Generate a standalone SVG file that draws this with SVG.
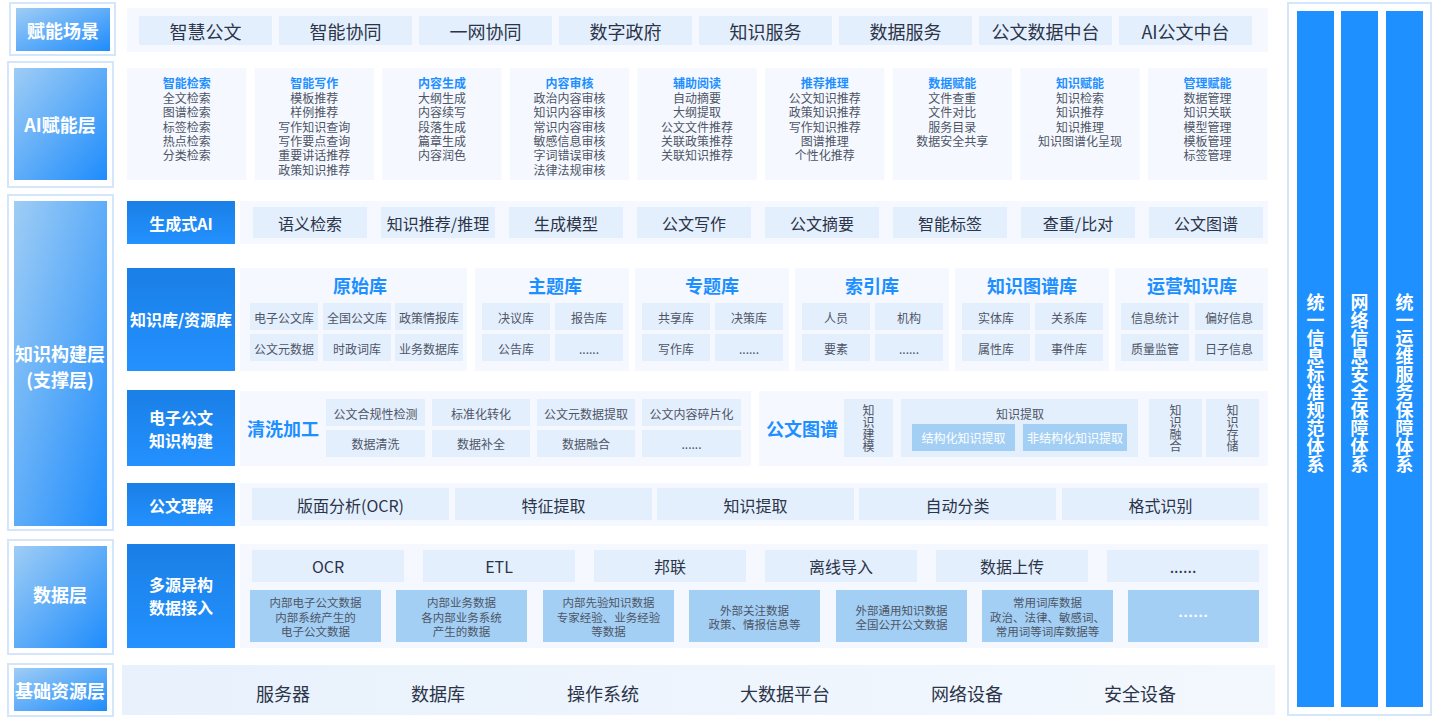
<svg xmlns="http://www.w3.org/2000/svg" width="1440" height="720" viewBox="0 0 1440 720">
<defs>
<linearGradient id="gLeft" x1="0" y1="0" x2="1" y2="1"><stop offset="0" stop-color="#9fcdf5"/><stop offset="1" stop-color="#1e8cfc"/></linearGradient>
<linearGradient id="gLabel" x1="0" y1="0" x2="0" y2="1"><stop offset="0" stop-color="#1a7fe6"/><stop offset="1" stop-color="#2391ff"/></linearGradient>
<linearGradient id="gBase" x1="0" y1="0" x2="1" y2="0"><stop offset="0" stop-color="#e8f1fc"/><stop offset="1" stop-color="#f3f8fe"/></linearGradient>
<style>
text{font-family:"Noto Sans CJK SC","Noto Sans",sans-serif;text-anchor:middle;dominant-baseline:central}
.frame{fill:#fff;stroke:#d3e6fb;stroke-width:2}
.lbl{fill:url(#gLeft)}
.lt{fill:#fff;font-size:18px;font-weight:700}
.lab{fill:url(#gLabel)}
.labt{fill:#fff;font-size:16px;font-weight:700}
.pan{fill:#f5f9ff}
.it{fill:#e4effd}
.dk{fill:#a3cff4}
.t18{fill:#2b3448;font-size:18px}
.t16{fill:#2b3448;font-size:16px}
.t12{fill:#4e5566;font-size:12px}
.t11{fill:#4e5566;font-size:11.5px}
.w12{fill:#fff;font-size:12px}
.ct{fill:#1e8fff;font-size:12px;font-weight:700}
.bt{fill:#1e8fff;font-weight:700;font-size:18px}
.bar{fill:#1e90ff}
.bart{fill:#fff;font-size:18px;font-weight:700;writing-mode:vertical-rl}
.vt{fill:#4e5566;font-size:12px;writing-mode:vertical-rl}
.dots{fill:#fff;font-size:15px;font-weight:700;font-family:"Liberation Sans",sans-serif}
</style>
</defs>
<rect width="1440" height="720" fill="#fff"/>

<!-- left layer labels -->
<g id="layer-scene">
<rect class="frame" x="10" y="3" width="105" height="52"/>
<rect class="lbl" x="16" y="8" width="94" height="43"/>
<text class="lt" x="63" y="30">赋能场景</text>
</g>
<g id="layer-ai">
<rect class="frame" x="8" y="62" width="105" height="125"/>
<rect class="lbl" x="14" y="68" width="93" height="112"/>
<text class="lt" x="60" y="124">AI赋能层</text>
</g>
<g id="layer-knowledge">
<rect class="frame" x="8" y="195" width="105" height="335"/>
<rect class="lbl" x="14" y="201" width="93" height="325"/>
<text class="lt" x="60" y="353">知识构建层</text>
<text class="lt" x="60" y="379">(支撑层)</text>
</g>
<g id="layer-data">
<rect class="frame" x="8" y="540" width="105" height="114"/>
<rect class="lbl" x="14" y="546" width="93" height="102"/>
<text class="lt" x="60" y="594">数据层</text>
</g>
<g id="layer-base">
<rect class="frame" x="8" y="664" width="105" height="52"/>
<rect class="lbl" x="14" y="668" width="93" height="43"/>
<text class="lt" x="60" y="690">基础资源层</text>
</g>

<!-- scenes -->
<g id="scenes">
<rect class="pan" x="127" y="8" width="1141" height="44"/>
<rect class="it" x="139" y="16" width="133" height="29"/><text class="t18" x="205.5" y="31">智慧公文</text>
<rect class="it" x="279" y="16" width="133" height="29"/><text class="t18" x="345.5" y="31">智能协同</text>
<rect class="it" x="419" y="16" width="133" height="29"/><text class="t18" x="485.5" y="31">一网协同</text>
<rect class="it" x="559" y="16" width="133" height="29"/><text class="t18" x="625.5" y="31">数字政府</text>
<rect class="it" x="699" y="16" width="133" height="29"/><text class="t18" x="765.5" y="31">知识服务</text>
<rect class="it" x="839" y="16" width="133" height="29"/><text class="t18" x="905.5" y="31">数据服务</text>
<rect class="it" x="979" y="16" width="133" height="29"/><text class="t18" x="1045.5" y="31">公文数据中台</text>
<rect class="it" x="1119" y="16" width="133" height="29"/><text class="t18" x="1185.5" y="31">AI公文中台</text>
</g>

<!-- AI cards -->
<g id="ai-cards">
<g id="card-1"><rect class="pan" x="127" y="68" width="119.5" height="112"/>
<text class="ct" x="186.7" y="82">智能检索</text>
<text class="t12" x="186.7" y="97">全文检索</text><text class="t12" x="186.7" y="111.5">图谱检索</text><text class="t12" x="186.7" y="126">标签检索</text><text class="t12" x="186.7" y="140.4">热点检索</text><text class="t12" x="186.7" y="154.8">分类检索</text></g>
<g id="card-2"><rect class="pan" x="254.6" y="68" width="119.5" height="112"/>
<text class="ct" x="314.3" y="82">智能写作</text>
<text class="t12" x="314.3" y="97">模板推荐</text><text class="t12" x="314.3" y="111.5">样例推荐</text><text class="t12" x="314.3" y="126">写作知识查询</text><text class="t12" x="314.3" y="140.4">写作要点查询</text><text class="t12" x="314.3" y="154.8">重要讲话推荐</text><text class="t12" x="314.3" y="169.2">政策知识推荐</text></g>
<g id="card-3"><rect class="pan" x="382.2" y="68" width="119.5" height="112"/>
<text class="ct" x="441.9" y="82">内容生成</text>
<text class="t12" x="441.9" y="97">大纲生成</text><text class="t12" x="441.9" y="111.5">内容续写</text><text class="t12" x="441.9" y="126">段落生成</text><text class="t12" x="441.9" y="140.4">篇章生成</text><text class="t12" x="441.9" y="154.8">内容润色</text></g>
<g id="card-4"><rect class="pan" x="509.8" y="68" width="119.5" height="112"/>
<text class="ct" x="569.5" y="82">内容审核</text>
<text class="t12" x="569.5" y="97">政治内容审核</text><text class="t12" x="569.5" y="111.5">知识内容审核</text><text class="t12" x="569.5" y="126">常识内容审核</text><text class="t12" x="569.5" y="140.4">敏感信息审核</text><text class="t12" x="569.5" y="154.8">字词错误审核</text><text class="t12" x="569.5" y="169.2">法律法规审核</text></g>
<g id="card-5"><rect class="pan" x="637.4" y="68" width="119.5" height="112"/>
<text class="ct" x="697.1" y="82">辅助阅读</text>
<text class="t12" x="697.1" y="97">自动摘要</text><text class="t12" x="697.1" y="111.5">大纲提取</text><text class="t12" x="697.1" y="126">公文文件推荐</text><text class="t12" x="697.1" y="140.4">关联政策推荐</text><text class="t12" x="697.1" y="154.8">关联知识推荐</text></g>
<g id="card-6"><rect class="pan" x="765" y="68" width="119.5" height="112"/>
<text class="ct" x="824.7" y="82">推荐推理</text>
<text class="t12" x="824.7" y="97">公文知识推荐</text><text class="t12" x="824.7" y="111.5">政策知识推荐</text><text class="t12" x="824.7" y="126">写作知识推荐</text><text class="t12" x="824.7" y="140.4">图谱推理</text><text class="t12" x="824.7" y="154.8">个性化推荐</text></g>
<g id="card-7"><rect class="pan" x="892.6" y="68" width="119.5" height="112"/>
<text class="ct" x="952.3" y="82">数据赋能</text>
<text class="t12" x="952.3" y="97">文件查重</text><text class="t12" x="952.3" y="111.5">文件对比</text><text class="t12" x="952.3" y="126">服务目录</text><text class="t12" x="952.3" y="140.4">数据安全共享</text></g>
<g id="card-8"><rect class="pan" x="1020.2" y="68" width="119.5" height="112"/>
<text class="ct" x="1079.9" y="82">知识赋能</text>
<text class="t12" x="1079.9" y="97">知识检索</text><text class="t12" x="1079.9" y="111.5">知识推荐</text><text class="t12" x="1079.9" y="126">知识推理</text><text class="t12" x="1079.9" y="140.4">知识图谱化呈现</text></g>
<g id="card-9"><rect class="pan" x="1147.8" y="68" width="119.5" height="112"/>
<text class="ct" x="1207.5" y="82">管理赋能</text>
<text class="t12" x="1207.5" y="97">数据管理</text><text class="t12" x="1207.5" y="111.5">知识关联</text><text class="t12" x="1207.5" y="126">模型管理</text><text class="t12" x="1207.5" y="140.4">模板管理</text><text class="t12" x="1207.5" y="154.8">标签管理</text></g>
</g>

<!-- 生成式AI -->
<g id="gen-ai">
<rect class="lab" x="127" y="201" width="108" height="43"/><text class="labt" x="181" y="222.5">生成式AI</text>
<rect class="pan" x="240" y="201" width="1028" height="43"/>
<rect class="it" x="253" y="207" width="114" height="31"/><text class="t16" x="310" y="223">语义检索</text>
<rect class="it" x="381" y="207" width="114" height="31"/><text class="t16" x="438" y="223">知识推荐/推理</text>
<rect class="it" x="509" y="207" width="114" height="31"/><text class="t16" x="566" y="223">生成模型</text>
<rect class="it" x="637" y="207" width="114" height="31"/><text class="t16" x="694" y="223">公文写作</text>
<rect class="it" x="765" y="207" width="114" height="31"/><text class="t16" x="822" y="223">公文摘要</text>
<rect class="it" x="893" y="207" width="114" height="31"/><text class="t16" x="950" y="223">智能标签</text>
<rect class="it" x="1021" y="207" width="114" height="31"/><text class="t16" x="1078" y="223">查重/比对</text>
<rect class="it" x="1149" y="207" width="114" height="31"/><text class="t16" x="1206" y="223">公文图谱</text>
</g>

<!-- 知识库/资源库 -->
<g id="kb">
<rect class="lab" x="127" y="268" width="108" height="103"/><text class="labt" x="181" y="319">知识库/资源库</text>
<g id="lib-raw">
<rect class="pan" x="240" y="268" width="227" height="103"/>
<text class="bt" x="360" y="285">原始库</text>
<rect class="it" x="250" y="303" width="68" height="27"/><text class="t12" x="284" y="317">电子公文库</text>
<rect class="it" x="323" y="303" width="68" height="27"/><text class="t12" x="357" y="317">全国公文库</text>
<rect class="it" x="395" y="303" width="68" height="27"/><text class="t12" x="429" y="317">政策情报库</text>
<rect class="it" x="250" y="334" width="68" height="27"/><text class="t12" x="284" y="348">公文元数据</text>
<rect class="it" x="323" y="334" width="68" height="27"/><text class="t12" x="357" y="348">时政词库</text>
<rect class="it" x="395" y="334" width="68" height="27"/><text class="t12" x="429" y="348">业务数据库</text>
</g>
<g id="lib-topic">
<rect class="pan" x="475" y="268" width="154" height="103"/>
<text class="bt" x="555" y="285">主题库</text>
<rect class="it" x="482" y="303" width="68" height="27"/><text class="t12" x="516" y="317">决议库</text>
<rect class="it" x="555" y="303" width="68" height="27"/><text class="t12" x="589" y="317">报告库</text>
<rect class="it" x="482" y="334" width="68" height="27"/><text class="t12" x="516" y="348">公告库</text>
<rect class="it" x="555" y="334" width="68" height="27"/><text class="t12" x="589" y="348">......</text>
</g>
<g id="lib-special">
<rect class="pan" x="635" y="268" width="154" height="103"/>
<text class="bt" x="712" y="285">专题库</text>
<rect class="it" x="642" y="303" width="68" height="27"/><text class="t12" x="676" y="317">共享库</text>
<rect class="it" x="715" y="303" width="68" height="27"/><text class="t12" x="749" y="317">决策库</text>
<rect class="it" x="642" y="334" width="68" height="27"/><text class="t12" x="676" y="348">写作库</text>
<rect class="it" x="715" y="334" width="68" height="27"/><text class="t12" x="749" y="348">......</text>
</g>
<g id="lib-index">
<rect class="pan" x="795" y="268" width="154" height="103"/>
<text class="bt" x="872" y="285">索引库</text>
<rect class="it" x="802" y="303" width="68" height="27"/><text class="t12" x="836" y="317">人员</text>
<rect class="it" x="875" y="303" width="68" height="27"/><text class="t12" x="909" y="317">机构</text>
<rect class="it" x="802" y="334" width="68" height="27"/><text class="t12" x="836" y="348">要素</text>
<rect class="it" x="875" y="334" width="68" height="27"/><text class="t12" x="909" y="348">......</text>
</g>
<g id="lib-kg">
<rect class="pan" x="955" y="268" width="154" height="103"/>
<text class="bt" x="1032" y="285">知识图谱库</text>
<rect class="it" x="962" y="303" width="68" height="27"/><text class="t12" x="996" y="317">实体库</text>
<rect class="it" x="1035" y="303" width="68" height="27"/><text class="t12" x="1069" y="317">关系库</text>
<rect class="it" x="962" y="334" width="68" height="27"/><text class="t12" x="996" y="348">属性库</text>
<rect class="it" x="1035" y="334" width="68" height="27"/><text class="t12" x="1069" y="348">事件库</text>
</g>
<g id="lib-ops">
<rect class="pan" x="1115" y="268" width="153" height="103"/>
<text class="bt" x="1192" y="285">运营知识库</text>
<rect class="it" x="1121" y="303" width="68" height="27"/><text class="t12" x="1155" y="317">信息统计</text>
<rect class="it" x="1195" y="303" width="68" height="27"/><text class="t12" x="1229" y="317">偏好信息</text>
<rect class="it" x="1121" y="334" width="68" height="27"/><text class="t12" x="1155" y="348">质量监管</text>
<rect class="it" x="1195" y="334" width="68" height="27"/><text class="t12" x="1229" y="348">日子信息</text>
</g>
</g>

<!-- 电子公文知识构建 -->
<g id="doc-build">
<rect class="lab" x="127" y="390" width="108" height="76"/>
<text class="labt" x="181" y="416.5">电子公文</text>
<text class="labt" x="181" y="440">知识构建</text>
<g id="cleaning">
<rect class="pan" x="240" y="391" width="511" height="75"/>
<text class="bt" x="283" y="428">清洗加工</text>
<rect class="it" x="326" y="399" width="99" height="27"/><text class="t12" x="375.5" y="413">公文合规性检测</text>
<rect class="it" x="432" y="399" width="98" height="27"/><text class="t12" x="481" y="413">标准化转化</text>
<rect class="it" x="537" y="399" width="98" height="27"/><text class="t12" x="586" y="413">公文元数据提取</text>
<rect class="it" x="642" y="399" width="99" height="27"/><text class="t12" x="691.5" y="413">公文内容碎片化</text>
<rect class="it" x="326" y="430" width="99" height="27"/><text class="t12" x="375.5" y="443">数据清洗</text>
<rect class="it" x="432" y="430" width="98" height="27"/><text class="t12" x="481" y="443">数据补全</text>
<rect class="it" x="537" y="430" width="98" height="27"/><text class="t12" x="586" y="443">数据融合</text>
<rect class="it" x="642" y="430" width="99" height="27"/><text class="t12" x="691.5" y="443">......</text>
</g>
<g id="doc-graph">
<rect class="pan" x="759" y="391" width="509" height="75"/>
<text class="bt" x="802" y="428">公文图谱</text>
<rect class="it" x="844" y="399" width="49" height="58"/>
<text class="vt" x="868.5" y="428.5">知识建模</text>
<rect class="it" x="901" y="399" width="237" height="58"/>
<text class="t12" x="1020" y="413">知识提取</text>
<rect class="dk" x="912" y="424" width="103" height="27"/><text class="w12" x="963.5" y="437.5">结构化知识提取</text>
<rect class="dk" x="1023" y="424" width="104" height="27"/><text class="w12" x="1075" y="437.5">非结构化知识提取</text>
<rect class="it" x="1149" y="399" width="53" height="58"/>
<text class="vt" x="1175.5" y="428.5">知识融合</text>
<rect class="it" x="1206" y="399" width="53" height="58"/>
<text class="vt" x="1232.5" y="428.5">知识存储</text>
</g>
</g>

<!-- 公文理解 -->
<g id="doc-understand">
<rect class="lab" x="127" y="483" width="108" height="43"/><text class="labt" x="181" y="505">公文理解</text>
<rect class="pan" x="240" y="483" width="1028" height="43"/>
<rect class="it" x="252" y="488" width="197" height="32"/><text class="t16" x="350.5" y="505">版面分析(OCR)</text>
<rect class="it" x="455" y="488" width="197" height="32"/><text class="t16" x="553.5" y="505">特征提取</text>
<rect class="it" x="657" y="488" width="197" height="32"/><text class="t16" x="755.5" y="505">知识提取</text>
<rect class="it" x="859" y="488" width="197" height="32"/><text class="t16" x="957.5" y="505">自动分类</text>
<rect class="it" x="1062" y="488" width="197" height="32"/><text class="t16" x="1160.5" y="505">格式识别</text>
</g>

<!-- 多源异构数据接入 -->
<g id="data-access">
<rect class="lab" x="127" y="544" width="108" height="104"/>
<text class="labt" x="181" y="583.5">多源异构</text>
<text class="labt" x="181" y="607">数据接入</text>
<rect class="pan" x="240" y="544" width="1028" height="104"/>
<rect class="it" x="252" y="550" width="152" height="32"/><text class="t16" x="328" y="566">OCR</text>
<rect class="it" x="423" y="550" width="152" height="32"/><text class="t16" x="499" y="566">ETL</text>
<rect class="it" x="594" y="550" width="152" height="32"/><text class="t16" x="670" y="566">邦联</text>
<rect class="it" x="765" y="550" width="152" height="32"/><text class="t16" x="841" y="566">离线导入</text>
<rect class="it" x="936" y="550" width="152" height="32"/><text class="t16" x="1012" y="566">数据上传</text>
<rect class="it" x="1107" y="550" width="152" height="32"/><text class="t16" x="1183" y="566">......</text>
<rect class="dk" x="250" y="590" width="131" height="52"/>
<text class="t11" x="315.5" y="602">内部电子公文数据</text><text class="t11" x="315.5" y="616.5">内部系统产生的</text><text class="t11" x="315.5" y="631">电子公文数据</text>
<rect class="dk" x="396" y="590" width="131" height="52"/>
<text class="t11" x="461.5" y="602">内部业务数据</text><text class="t11" x="461.5" y="616.5">各内部业务系统</text><text class="t11" x="461.5" y="631">产生的数据</text>
<rect class="dk" x="543" y="590" width="131" height="52"/>
<text class="t11" x="608.5" y="602">内部先验知识数据</text><text class="t11" x="608.5" y="616.5">专家经验、业务经验</text><text class="t11" x="608.5" y="631">等数据</text>
<rect class="dk" x="689" y="590" width="131" height="52"/>
<text class="t11" x="754.5" y="609.5">外部关注数据</text><text class="t11" x="754.5" y="624">政策、情报信息等</text>
<rect class="dk" x="836" y="590" width="131" height="52"/>
<text class="t11" x="901.5" y="609.5">外部通用知识数据</text><text class="t11" x="901.5" y="624">全国公开公文数据</text>
<rect class="dk" x="982" y="590" width="131" height="52"/>
<text class="t11" x="1047.5" y="602">常用词库数据</text><text class="t11" x="1047.5" y="616.5">政治、法律、敏感词、</text><text class="t11" x="1047.5" y="631">常用词等词库数据等</text>
<rect class="dk" x="1128" y="590" width="131" height="52"/>
<text class="dots" x="1193.5" y="615">······</text>
</g>

<!-- 基础资源层 -->
<g id="base">
<rect fill="url(#gBase)" x="122" y="665" width="1153" height="50"/>
<text class="t18" x="283" y="693">服务器</text>
<text class="t18" x="438" y="693">数据库</text>
<text class="t18" x="603" y="693">操作系统</text>
<text class="t18" x="785" y="693">大数据平台</text>
<text class="t18" x="967" y="693">网络设备</text>
<text class="t18" x="1140" y="693">安全设备</text>
</g>

<!-- right systems -->
<g id="systems">
<rect class="frame" x="1288" y="3" width="143" height="712"/>
<g id="sys-1"><rect class="bar" x="1297" y="11" width="37" height="696"/>
<text class="bart" x="1315.5" y="383">统一信息标准规范体系</text></g>
<g id="sys-2"><rect class="bar" x="1341" y="11" width="37" height="696"/>
<text class="bart" x="1359.5" y="383">网络信息安全保障体系</text></g>
<g id="sys-3"><rect class="bar" x="1386" y="11" width="37" height="696"/>
<text class="bart" x="1404.5" y="383">统一运维服务保障体系</text></g>
</g>

<g id="connectors"/>
</svg>
